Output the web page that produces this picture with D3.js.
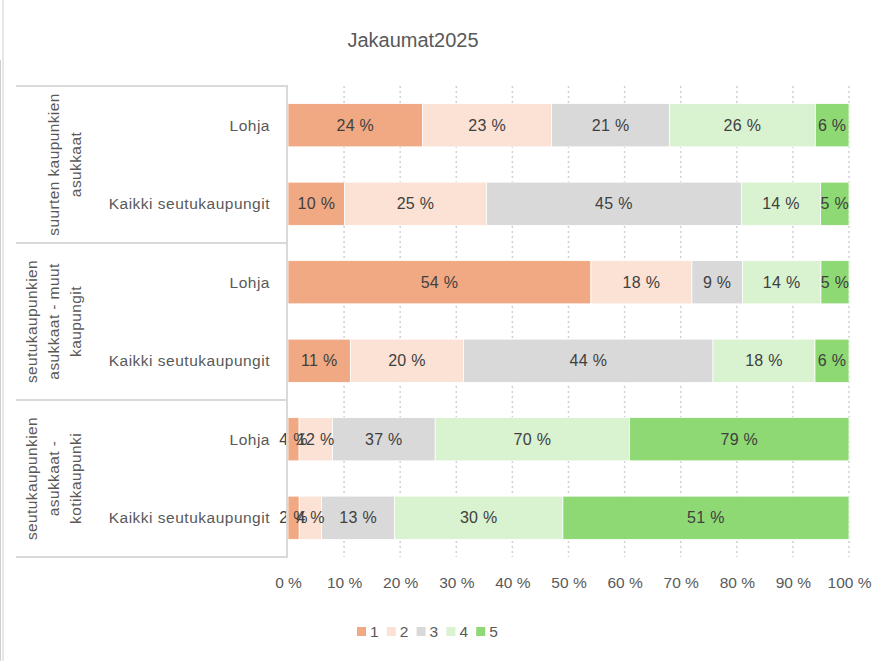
<!DOCTYPE html>
<html>
<head>
<meta charset="utf-8">
<script src="https://cdn.jsdelivr.net/npm/d3@7"></script>
<style>
  body { margin: 0; background: #fff; }
  svg { display: block; font-family: "Liberation Sans", Arial, sans-serif; }
</style>
</head>
<body>
<svg id="chart"></svg>
<script>
// groups (top to bottom), each split into the lines shown in the rotated label
const groupLines = [
  ["suurten kaupunkien", "asukkaat"],
  ["seutukaupunkien", "asukkaat - muut", "kaupungit"],
  ["seutukaupunkien", "asukkaat -", "kotikaupunki"]
];
const areas = ["Lohja", "Kaikki seutukaupungit"];
const seriesKeys = ["1", "2", "3", "4", "5"];

// values per series, rows in order: g1 Lohja, g1 Kaikki, g2 Lohja, g2 Kaikki, g3 Lohja, g3 Kaikki
const s1 = [24, 10, 54, 11, 4, 2];
const s2 = [23, 25, 18, 20, 12, 4];
const s3 = [21, 45, 9, 44, 37, 13];
const s4 = [26, 14, 14, 18, 70, 30];
const s5 = [6, 5, 5, 6, 79, 51];

const xTicks = [0, 0.1, 0.2, 0.3, 0.4, 0.5, 0.6, 0.7, 0.8, 0.9, 1];
const colors = ["#F1A983", "#FBE2D5", "#D9D9D9", "#D9F2D0", "#8ED973"];

const width = 883;
const height = 661;
const plot = { left: 288, right: 849, top: 86, bottom: 557 };

const rows = [];
groupLines.forEach((g, gi) => {
  areas.forEach((a, ai) => {
    const i = gi * areas.length + ai;
    rows.push({ id: gi + "|" + a, group: gi, area: a, "1": s1[i], "2": s2[i], "3": s3[i], "4": s4[i], "5": s5[i] });
  });
});

const svg = d3.select("#chart").attr("width", width).attr("height", height);

// frame edge on the left
svg.append("line").attr("x1", 0.5).attr("x2", 0.5).attr("y1", 60).attr("y2", height)
  .attr("stroke", "#d0d0d0");
svg.append("line").attr("x1", 3).attr("x2", 3).attr("y1", 0).attr("y2", height)
  .attr("stroke", "#d0d0d0");

const x = d3.scaleLinear().domain([0, 1]).range([plot.left, plot.right]);
const y = d3.scaleBand()
  .domain(rows.map((d) => d.id))
  .range([plot.top, plot.bottom])
  .paddingInner(0.45)
  .paddingOuter(0.225);
const color = d3.scaleOrdinal().domain(seriesKeys).range(colors);

// dotted gridlines
svg.append("g")
  .selectAll("line")
  .data(xTicks.slice(1))
  .enter()
  .append("line")
  .attr("x1", (d) => x(d))
  .attr("x2", (d) => x(d))
  .attr("y1", plot.top)
  .attr("y2", plot.bottom)
  .attr("stroke", "#d0d0d0")
  .attr("stroke-width", 1.5)
  .attr("stroke-dasharray", "2,3");

// stacked bars, normalised to 100 %
const stacked = d3.stack().keys(seriesKeys).offset(d3.stackOffsetExpand)(rows);

const layers = svg.append("g")
  .selectAll("g")
  .data(stacked)
  .enter()
  .append("g")
  .attr("fill", (d) => color(d.key));

layers.selectAll("rect")
  .data((d) => d)
  .enter()
  .append("rect")
  .attr("x", (d) => x(d[0]))
  .attr("y", (d) => y(d.data.id))
  .attr("width", (d) => x(d[1]) - x(d[0]))
  .attr("height", y.bandwidth())
  .attr("stroke", "#fff")
  .attr("stroke-width", 0.75);

// value labels
const labels = svg.append("g").attr("font-size", 16).attr("letter-spacing", 0.3).attr("fill", "#404040");
stacked.forEach((layer) => {
  labels.selectAll(null)
    .data(layer)
    .enter()
    .append("text")
    .attr("x", (d) => (x(d[0]) + x(d[1])) / 2)
    .attr("y", (d) => y(d.data.id) + y.bandwidth() / 2)
    .attr("dy", "0.35em")
    .attr("text-anchor", "middle")
    .text((d) => d.data[layer.key] + " %");
});

// category table on the left
const tableColor = "#d9d9d9";
const groupEdges = [0, 1, 2, 3].map((i) => plot.top + (i * (plot.bottom - plot.top)) / 3);
svg.append("g")
  .selectAll("line")
  .data(groupEdges)
  .enter()
  .append("line")
  .attr("x1", 16)
  .attr("x2", plot.left)
  .attr("y1", (d) => d)
  .attr("y2", (d) => d)
  .attr("stroke", tableColor)
  .attr("stroke-width", 2);
svg.append("line")
  .attr("x1", plot.left - 1).attr("x2", plot.left - 1)
  .attr("y1", plot.top).attr("y2", plot.bottom)
  .attr("stroke", tableColor).attr("stroke-width", 2);

svg.append("g")
  .selectAll("text")
  .data(rows)
  .enter()
  .append("text")
  .attr("x", 270)
  .attr("y", (d) => y(d.id) + y.bandwidth() / 2)
  .attr("dy", "0.35em")
  .attr("text-anchor", "end")
  .attr("font-size", 15.5)
  .attr("letter-spacing", 0.5)
  .attr("fill", "#595959")
  .text((d) => d.area);

groupLines.forEach((lines, gi) => {
  const cy = (groupEdges[gi] + groupEdges[gi + 1]) / 2;
  const n = lines.length;
  lines.forEach((l, li) => {
    const cx = 76 - (n - 1 - li) * 22;
    svg.append("text")
      .attr("transform", `translate(${cx},${cy}) rotate(-90)`)
      .attr("dy", "0.35em")
      .attr("text-anchor", "middle")
      .attr("font-size", 15.5)
      .attr("letter-spacing", 0.4)
      .attr("fill", "#595959")
      .text(l);
  });
});

// x axis tick labels
const xAxis = d3.axisBottom(x).tickValues(xTicks).tickSize(0).tickPadding(0)
  .tickFormat((d) => Math.round(d * 100) + " %");
const axisG = svg.append("g")
  .attr("transform", `translate(0,${plot.bottom + 20})`)
  .call(xAxis);
axisG.select(".domain").remove();
axisG.selectAll("text")
  .attr("font-family", "Liberation Sans, Arial, sans-serif")
  .attr("font-size", 15.5)
  .attr("fill", "#595959");

// title
svg.append("text")
  .attr("x", 413)
  .attr("y", 47)
  .attr("text-anchor", "middle")
  .attr("font-size", 20)
  .attr("fill", "#595959")
  .text("Jakaumat2025");

// legend
const legend = svg.append("g").attr("transform", "translate(357,627)");
const item = legend.selectAll("g")
  .data(seriesKeys)
  .enter()
  .append("g")
  .attr("transform", (d, i) => `translate(${i * 29.8},0)`);
item.append("rect")
  .attr("width", 9)
  .attr("height", 9)
  .attr("fill", (d) => color(d));
item.append("text")
  .attr("x", 13)
  .attr("y", 4.5)
  .attr("dy", "0.35em")
  .attr("font-size", 15.5)
  .attr("fill", "#595959")
  .text((d) => d);
</script>
</body>
</html>
